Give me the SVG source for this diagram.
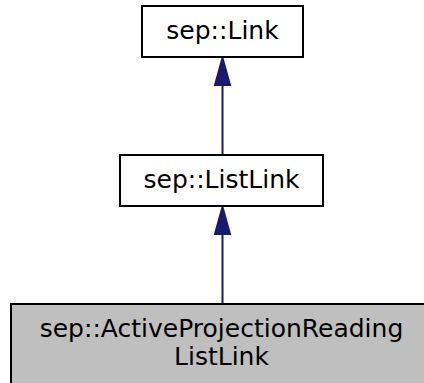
<svg xmlns="http://www.w3.org/2000/svg" width="424" height="383" viewBox="0 0 424 383">
<style>
.box{fill:#fff;stroke:#000;stroke-width:2}
.cur{fill:#bfbfbf;stroke:#000;stroke-width:2}
text{font-family:"DejaVu Sans",sans-serif;font-size:25px;text-anchor:middle;fill:#000}
.edge{stroke:#191970;stroke-width:2;fill:none}
.head{fill:#191970;stroke:#191970;stroke-width:2}
</style>
<rect width="424" height="383" fill="#fff"/>
<g id="connectors">
<path class="edge" d="M222.5,155V85"/>
<polygon class="head" points="222.5,58 230,85 215,85"/>
<path class="edge" d="M222.5,304V234"/>
<polygon class="head" points="222.5,207 230,234 215,234"/>
</g>
<g id="node-link">
<rect class="box" x="142" y="6" width="161" height="51"/>
<text x="222.5" y="38.5">sep::Link</text>
</g>
<g id="node-listlink">
<rect class="box" x="120" y="155" width="203" height="51"/>
<text x="221.5" y="187.5">sep::ListLink</text>
</g>
<g id="node-active">
<rect class="cur" x="11" y="304" width="420" height="86"/>
<text x="221.5" y="336.5">sep::ActiveProjectionReading</text>
<text x="221.5" y="365">ListLink</text>
</g>
</svg>
